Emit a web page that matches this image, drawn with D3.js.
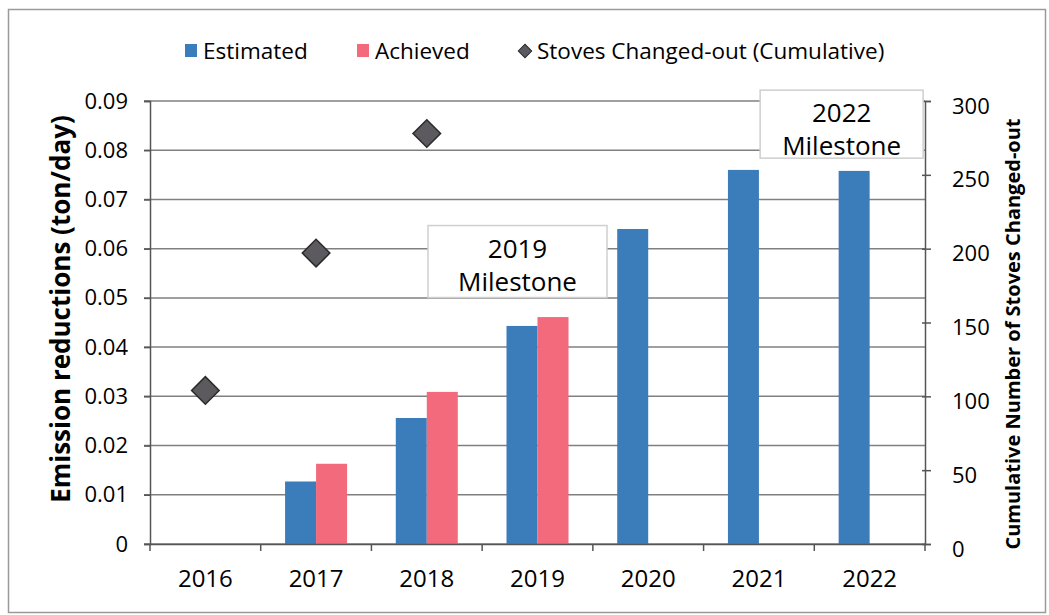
<!DOCTYPE html>
<html>
<head>
<meta charset="utf-8">
<script src="https://cdn.jsdelivr.net/npm/d3@7"></script>
<style>
	body { margin: 0; background: #fff; }
	svg text { font-family: "Open Sans", "Noto Sans", sans-serif; fill: #000; }
</style>
</head>
<body>
<svg id="chart" width="1049" height="615"></svg>
<script>
//data
var years = ["2016", "2017", "2018", "2019", "2020", "2021", "2022"];
var series = ["Estimated", "Achieved"];
//emission reductions, ton/day (null = no bar)
var estimated = [null, 0.0127, 0.0256, 0.0443, 0.0640, 0.0760, 0.0758];
var achieved = [null, 0.0163, 0.0309, 0.0461, null, null, null];
//cumulative stoves changed-out (right axis)
var stoveYears = ["2016", "2017", "2018"];
var stoves = [104, 197, 278];
var leftTicks = [0, 0.01, 0.02, 0.03, 0.04, 0.05, 0.06, 0.07, 0.08, 0.09];
var rightTicks = [0, 50, 100, 150, 200, 250, 300];
var milestoneYears = ["2019", "2022"];
var milestoneLines = [["2019", "Milestone"], ["2022", "Milestone"]];

var colors = {Estimated: "#3b7dba", Achieved: "#f26a7b"};

var svg = d3.select("#chart");

//outer frame
svg.append("rect")
.attr("x", 8.5)
.attr("y", 9.5)
.attr("width", 1037)
.attr("height", 603)
.attr("fill", "none")
.attr("stroke", "#9a9a9a")
.attr("stroke-width", 1.5);

//plot area edges (not "top": window.top is read-only)
var plotLeft = 150, plotRight = 925, plotTop = 101, plotBottom = 544;

var x = d3.scaleBand()
.domain(years)
.range([plotLeft, plotRight])
.paddingInner(0.44)
.paddingOuter(0.22);

var xInner = d3.scaleBand()
.domain(series)
.range([0, x.bandwidth()]);

var y = d3.scaleLinear()
.domain([0, 0.09])
.range([plotBottom, plotTop]);

var yRight = d3.scaleLinear()
.domain([0, 300])
.range([plotBottom, plotTop]);

//gridlines
svg.append("g")
.selectAll("line")
.data(leftTicks)
.enter()
.append("line")
.attr("x1", plotLeft - 6)
.attr("x2", plotRight)
.attr("y1", function(d){ return y(d); })
.attr("y2", function(d){ return y(d); })
.attr("stroke", "#808080")
.attr("stroke-width", 1.5);

//bars
var barData = [];
years.forEach(function(yr, i){
	if (estimated[i] != null) barData.push({year: yr, key: "Estimated", value: estimated[i]});
	if (achieved[i] != null) barData.push({year: yr, key: "Achieved", value: achieved[i]});
});

svg.append("g")
.selectAll("rect")
.data(barData)
.enter()
.append("rect")
.attr("x", function(d){ return x(d.year) + xInner(d.key); })
.attr("width", xInner.bandwidth())
.attr("y", function(d){ return y(d.value); })
.attr("height", function(d){ return y(0) - y(d.value); })
.attr("fill", function(d){ return colors[d.key]; });

//left axis
var leftAxis = d3.axisLeft(y)
.tickValues(leftTicks)
.tickFormat(function(d){ return d === 0 ? "0" : d3.format(".2f")(d); })
.tickSize(6)
.tickPadding(16);

var gl = svg.append("g")
.attr("transform", "translate(" + plotLeft + ",0)")
.call(leftAxis);
gl.selectAll("text").style("font-size", "22px");

//right axis
var rightAxis = d3.axisRight(yRight)
.tickValues(rightTicks)
.tickSize(6)
.tickPadding(21);

var gr = svg.append("g")
.attr("transform", "translate(" + plotRight + ",0)")
.call(rightAxis);
gr.selectAll("text").style("font-size", "22px").attr("dy", "0.55em");
gr.selectAll(".tick line").attr("x1", -3);

//bottom axis, labels only; ticks sit on the category boundaries
var bottomAxis = d3.axisBottom(x).tickSize(0).tickPadding(26);
var gb = svg.append("g")
.attr("transform", "translate(0," + plotBottom + ")")
.call(bottomAxis);
gb.selectAll("text").style("font-size", "24px");

var boundaries = d3.range(years.length + 1).map(function(i){
	return x.range()[0] + i * x.step();
});
gb.selectAll(".bound")
.data(boundaries)
.enter()
.append("line")
.attr("class", "bound")
.attr("x1", function(d){ return d; })
.attr("x2", function(d){ return d; })
.attr("y1", 0)
.attr("y2", 7)
.attr("stroke", "#555")
.attr("stroke-width", 1.5);

[gl, gr, gb].forEach(function(g){
	g.select(".domain").attr("stroke", "#555").attr("stroke-width", 1.5);
	g.selectAll(".tick line").attr("stroke", "#555").attr("stroke-width", 1.5);
});

//stove diamonds
svg.append("g")
.selectAll("path")
.data(stoves)
.enter()
.append("path")
.attr("d", d3.symbol().type(d3.symbolSquare).size(380))
.attr("transform", function(d, i){
	return "translate(" + (x(stoveYears[i]) + x.bandwidth() / 2) + "," + yRight(d) + ") rotate(45)";
})
.attr("fill", "#5c5a5e")
.attr("stroke", "#2a2a2a")
.attr("stroke-width", 1.5);

//milestone boxes, placed relative to the centre of their year
var boxW = [179, 163], boxH = [72, 68], boxShift = [-20, -28], boxTopVal = [0.0647, 0.0922];

milestoneYears.forEach(function(yr, i){
	var cx = x(yr) + x.bandwidth() / 2 + boxShift[i];
	var by = y(boxTopVal[i]);
	var g = svg.append("g");
	g.append("rect")
	.attr("x", cx - boxW[i] / 2)
	.attr("y", by)
	.attr("width", boxW[i])
	.attr("height", boxH[i])
	.attr("fill", "#fff")
	.attr("stroke", "#cfcfcf")
	.attr("stroke-width", 1.5);

	g.selectAll("text")
	.data(milestoneLines[i])
	.enter()
	.append("text")
	.attr("x", cx)
	.attr("y", function(t, j){ return by + 32 + j * 33; })
	.attr("text-anchor", "middle")
	.style("font-size", "26px")
	.text(function(t){ return t; });
});

//axis titles
svg.append("text")
.attr("transform", "translate(70,309) rotate(-90)")
.attr("text-anchor", "middle")
.style("font-size", "26px")
.style("font-weight", "bold")
.text("Emission reductions (ton/day)");

svg.append("text")
.attr("transform", "translate(1020,334) rotate(-90)")
.attr("text-anchor", "middle")
.style("font-size", "20px")
.style("font-weight", "bold")
.text("Cumulative Number of Stoves Changed-out");

//legend
var legend = svg.append("g");
var legendItems = [
	{label: "Estimated", kind: "Estimated", x: 185, tx: 203},
	{label: "Achieved", kind: "Achieved", x: 357, tx: 375},
	{label: "Stoves Changed-out (Cumulative)", kind: "diamond", x: 525, tx: 537}
];

legendItems.forEach(function(item){
	if (item.kind === "diamond") {
		legend.append("path")
		.attr("d", d3.symbol().type(d3.symbolSquare).size(90))
		.attr("transform", "translate(" + item.x + ",51) rotate(45)")
		.attr("fill", "#5c5a5e")
		.attr("stroke", "#2a2a2a")
		.attr("stroke-width", 1);
	} else {
		legend.append("rect")
		.attr("x", item.x)
		.attr("y", 44)
		.attr("width", 12)
		.attr("height", 13)
		.attr("fill", colors[item.kind]);
	}
	legend.append("text")
	.attr("x", item.tx)
	.attr("y", 59)
	.style("font-size", "22.5px")
	.text(item.label);
});
</script>
</body>
</html>
